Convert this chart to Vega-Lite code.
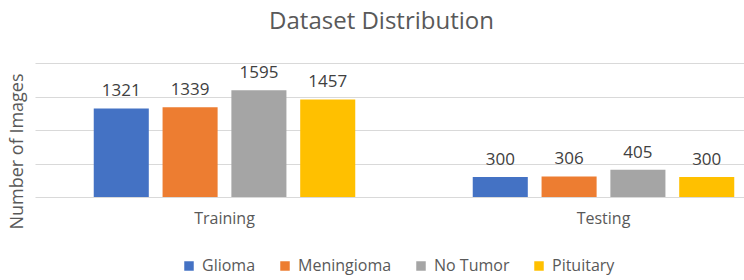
{
  "$schema": "https://vega.github.io/schema/vega-lite/v6.json",
  "autosize": {"type": "none"},
  "padding": {"left": 35, "top": 63, "right": 4, "bottom": 83},
  "width": 705,
  "height": 134,
  "background": "white",
  "config": {
    "font": "Open Sans",
    "view": {"stroke": null}
  },
  "title": {
    "text": "Dataset Distribution",
    "fontSize": 24,
    "fontWeight": "normal",
    "color": "#595959",
    "anchor": "middle",
    "dx": -6,
    "offset": 29
  },
  "data": {
    "values": [
      {"split": "Training", "class": "Glioma", "count": 1321},
      {"split": "Training", "class": "Meningioma", "count": 1339},
      {"split": "Training", "class": "No Tumor", "count": 1595},
      {"split": "Training", "class": "Pituitary", "count": 1457},
      {"split": "Testing", "class": "Glioma", "count": 300},
      {"split": "Testing", "class": "Meningioma", "count": 306},
      {"split": "Testing", "class": "No Tumor", "count": 405},
      {"split": "Testing", "class": "Pituitary", "count": 300}
    ]
  },
  "encoding": {
    "x": {
      "field": "split",
      "type": "nominal",
      "sort": ["Training", "Testing"],
      "scale": {"range": [0, 758], "paddingInner": 0.31, "paddingOuter": 0.155},
      "axis": {
        "title": null,
        "labelAngle": 0,
        "domain": false,
        "ticks": false,
        "labelFontSize": 16,
        "labelColor": "#595959",
        "labelPadding": 13
      }
    },
    "xOffset": {
      "field": "class",
      "type": "nominal",
      "sort": ["Glioma", "Meningioma", "No Tumor", "Pituitary"],
      "scale": {"paddingInner": 0.2, "paddingOuter": 0}
    },
    "y": {
      "field": "count",
      "type": "quantitative",
      "scale": {"domain": [0, 2000], "nice": false},
      "axis": {
        "title": "Number of Images",
        "titleFontSize": 18,
        "titleFontWeight": "normal",
        "titleColor": "#595959",
        "titleX": -18,
        "titleY": 88,
        "titleAngle": -90,
        "titleAlign": "center",
        "titleBaseline": "middle",
        "values": [0, 500, 1000, 1500, 2000],
        "labels": false,
        "ticks": false,
        "domain": false,
        "grid": true,
        "gridColor": "#d9d9d9",
        "gridWidth": 1
      }
    }
  },
  "layer": [
    {
      "mark": {"type": "bar"},
      "encoding": {
        "color": {
          "field": "class",
          "type": "nominal",
          "sort": ["Glioma", "Meningioma", "No Tumor", "Pituitary"],
          "scale": {
            "domain": ["Glioma", "Meningioma", "No Tumor", "Pituitary"],
            "range": ["#4472C4", "#ED7D31", "#A5A5A5", "#FFC000"]
          },
          "legend": {
            "title": null,
            "orient": "none",
            "direction": "horizontal",
            "legendX": 146,
            "legendY": 195,
            "symbolType": "square",
            "symbolSize": 90,
            "symbolStrokeWidth": 0,
            "labelFontSize": 16,
            "labelColor": "#595959",
            "columnPadding": 21,
            "labelOffset": 5
          }
        }
      }
    },
    {
      "mark": {"type": "text", "baseline": "bottom", "dy": -8, "fontSize": 17, "color": "#404040"},
      "encoding": {
        "text": {"field": "count", "type": "quantitative"}
      }
    }
  ]
}
